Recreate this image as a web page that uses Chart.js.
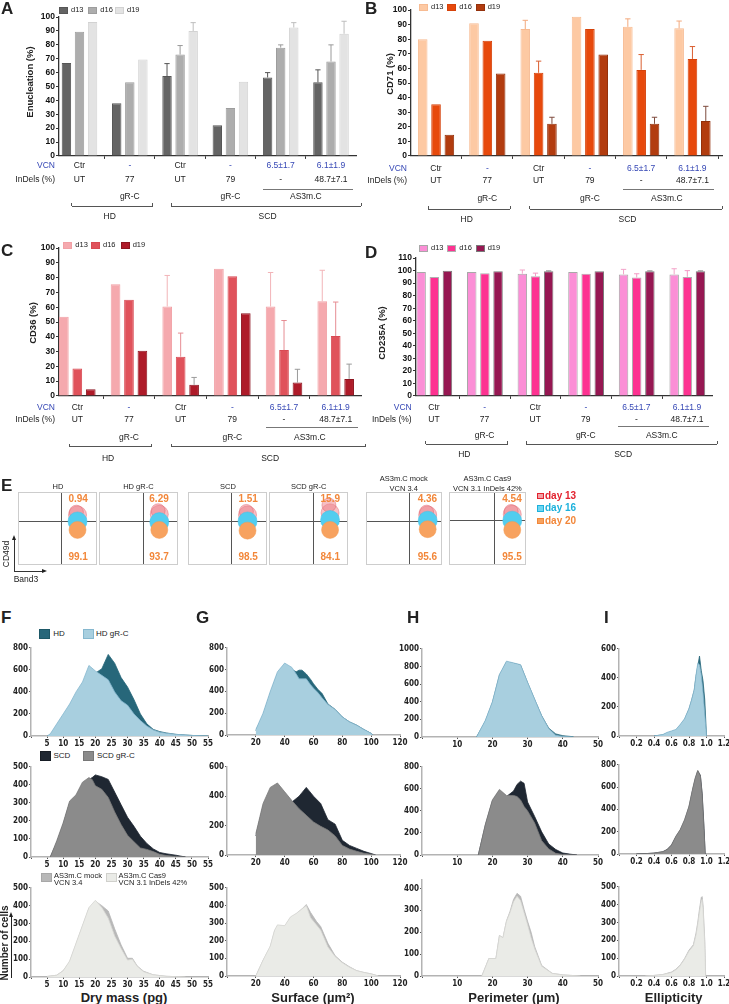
<!DOCTYPE html>
<html>
<head>
<meta charset="utf-8">
<title>Figure</title>
<script src="https://cdn.jsdelivr.net/npm/chart.js@4.4.1/dist/chart.umd.min.js"></script>
<style>
  body { margin: 0; background: #fff; }
  #fig { position: relative; width: 729px; height: 1004px; overflow: hidden; font-family: Arial, "Liberation Sans", sans-serif; color: #222; }
  #fig canvas { position: absolute; }
  .t { position: absolute; white-space: pre; line-height: 1; }
  .ln { position: absolute; }
</style>
</head>
<body>
<div id="fig"></div>
<script>
// ---- paneles A-D: grupos del eje x ----
const vcnRow = ['Ctr', '-', 'Ctr', '-', '6.5±1.7', '6.1±1.9'];
const indelRow = ['UT', '77', 'UT', '79', '-', '48.7±7.1'];
const vcnBlue = [false, true, false, true, true, true];
const dayLabels = ['d13', 'd16', 'd19'];

// A - enucleacion
const enucD13 = [67, 38, 57.5, 22, 56.5, 53];
const enucD16 = [89.5, 53, 73, 34.5, 78, 68];
const enucD19 = [96.5, 69.5, 90, 53.5, 92.5, 88];
const enucSdD13 = [0, 0, 9, 0, 3.5, 9];
const enucSdD16 = [0, 0, 6.5, 0, 2, 12];
const enucSdD19 = [0, 0, 6, 0, 3.5, 9];

// B - CD71
const cd71D13 = [80, 91, 87, 95.5, 88.5, 87.5];
const cd71D16 = [35.5, 79, 57, 87, 59, 66.5];
const cd71D19 = [14.5, 56.5, 22, 69.5, 22, 24];
const cd71SdD13 = [0, 0, 6, 0, 5.5, 5];
const cd71SdD16 = [0, 0, 8, 0, 10.5, 8.5];
const cd71SdD19 = [0, 0, 4.5, 0, 4.5, 10];

// C - CD36
const cd36D13 = [53.5, 75.5, 60.5, 86, 60.5, 64];
const cd36D16 = [18.5, 65, 26.5, 81, 31, 40.5];
const cd36D19 = [4.5, 30.5, 7.5, 56, 9, 11.5];
const cd36SdD13 = [0, 0, 21, 0, 23, 21];
const cd36SdD16 = [0, 0, 16, 0, 20, 23];
const cd36SdD19 = [0, 0, 5, 0, 9, 10];

// D - CD235A
const gpaD13 = [99, 99, 97.5, 99, 97, 97];
const gpaD16 = [95, 98, 95.5, 97.5, 94.5, 95];
const gpaD19 = [100, 99.5, 99.5, 99.5, 99.5, 99.5];
const gpaSdD13 = [0, 0, 3, 0, 4, 4.5];
const gpaSdD16 = [0, 0, 2.5, 0, 3, 5];
const gpaSdD19 = [0, 0, 0.3, 0, 0.3, 0.3];

// ---- panel E: citometria ----
const flowNames = ['HD', 'HD gR-C', 'SCD', 'SCD gR-C', 'AS3m.C mock\nVCN 3.4', 'AS3m.C Cas9\nVCN 3.1 InDels 42%'];
const flowUpper = ['0.94', '6.29', '1.51', '15.9', '4.36', '4.54'];
const flowLower = ['99.1', '93.7', '98.5', '84.1', '95.6', '95.5'];
const gateX = [55, 56, 55, 56, 57, 58];
const gateY = [61, 61, 61, 61, 61, 62];
const popX = [76, 77, 76, 78, 82, 83];
const day13Y = [69, 70, 69, 72, 69, 70];
const day13Top = [73, 75, 74, 83, 73, 74];
const day16Y = [60, 59, 60, 62, 61, 61];
const day20Y = [48, 48, 47, 48, 49, 48];

// ---- paneles F-I: histogramas ----
const massX1 = [5, 6, 8, 10, 12, 14, 16, 18, 20, 22, 24, 26, 28, 30, 32, 34, 36, 38, 40, 42, 45, 50, 55];
const massHDgRC = [0, 20, 110, 200, 290, 400, 490, 640, 590, 550, 510, 400, 320, 280, 200, 140, 90, 55, 35, 25, 15, 5, 0];
const massHD = [0, 10, 80, 160, 250, 350, 440, 560, 570, 610, 740, 660, 530, 445, 330, 200, 110, 60, 40, 28, 15, 5, 0];
const surfX1 = [20, 25, 30, 35, 40, 45, 48, 50, 52, 55, 58, 60, 63, 66, 70, 75, 80, 85, 90, 95, 100, 101];
const surfHDgRC = [50, 200, 400, 580, 660, 620, 560, 515, 515, 515, 460, 430, 390, 340, 280, 235, 165, 120, 90, 50, 15, 0];
const surfHD = [40, 180, 380, 560, 640, 600, 580, 595, 595, 560, 510, 470, 420, 380, 285, 235, 165, 120, 90, 50, 15, 0];
const perimX1 = [15.5, 18, 20, 22, 24, 26, 28, 30, 32, 34, 36, 38, 40, 43];
const perimHDgRC = [0, 190, 400, 710, 860, 840, 820, 620, 430, 240, 95, 20, 5, 0];
const perimHD = [0, 180, 390, 700, 850, 835, 815, 615, 425, 240, 100, 35, 15, 3];
const ellipX1 = [0.4, 0.5, 0.55, 0.6, 0.65, 0.7, 0.75, 0.8, 0.83, 0.86, 0.88, 0.9, 0.92, 0.94, 0.96, 0.98, 1.0];
const ellipHDgRC = [0, 10, 25, 35, 45, 80, 120, 190, 250, 320, 420, 500, 490, 420, 300, 150, 0];
const ellipHD = [0, 8, 20, 30, 40, 75, 115, 185, 245, 315, 410, 480, 550, 450, 380, 250, 0];

const massX2 = [6, 8, 10, 12, 14, 16, 18, 19, 20, 22, 24, 26, 28, 30, 32, 34, 36, 38, 40, 42, 45, 48];
const massSCDgRC = [0, 90, 190, 310, 345, 415, 440, 430, 395, 375, 330, 250, 180, 120, 85, 50, 42, 30, 15, 8, 3, 0];
const massSCD = [0, 80, 180, 300, 335, 405, 430, 440, 455, 445, 430, 360, 290, 220, 170, 115, 75, 45, 25, 18, 10, 0];
const surfX2 = [20, 25, 30, 35, 40, 45, 50, 55, 60, 65, 70, 75, 80, 85, 90, 95, 100, 103];
const surfSCDgRC = [145, 350, 460, 490, 430, 370, 315, 270, 225, 195, 170, 130, 65, 40, 25, 12, 5, 0];
const surfSCD = [130, 330, 440, 470, 410, 360, 400, 460, 400, 350, 240, 210, 100, 65, 45, 25, 10, 0];
const perimX2 = [16, 18, 20, 22, 24, 26, 27, 28, 29, 30, 32, 34, 36, 38, 40, 42, 44];
const perimSCDgRC = [0, 280, 500, 595, 540, 540, 530, 500, 440, 400, 290, 130, 55, 15, 5, 2, 0];
const perimSCD = [0, 270, 490, 585, 530, 580, 640, 670, 650, 480, 350, 210, 100, 50, 18, 8, 0];
const ellipX2 = [0.2, 0.3, 0.4, 0.5, 0.55, 0.6, 0.65, 0.7, 0.75, 0.8, 0.84, 0.87, 0.9, 0.93, 0.95, 0.97, 0.985];
const ellipSCDgRC = [0, 3, 8, 20, 40, 80, 160, 220, 310, 430, 580, 680, 750, 700, 530, 230, 0];
const ellipSCD = [0, 3, 8, 20, 40, 80, 155, 215, 300, 420, 570, 670, 745, 705, 545, 260, 0];

const massX3 = [5, 8, 10, 12, 14, 16, 18, 20, 22, 24, 26, 28, 30, 31.5, 33, 35, 38, 42, 48];
const massCas9 = [3, 10, 35, 90, 190, 290, 390, 430, 390, 330, 230, 160, 95, 100, 60, 30, 12, 4, 0];
const massMock = [3, 10, 35, 85, 185, 285, 385, 425, 400, 370, 270, 180, 105, 105, 62, 32, 12, 4, 0];
const surfX3 = [20, 25, 30, 33, 35, 40, 44, 48, 52, 55, 58, 62, 65, 70, 75, 80, 85, 90, 95, 100, 105];
const surfCas9 = [0, 90, 170, 260, 290, 285, 335, 355, 380, 400, 330, 290, 260, 165, 110, 75, 50, 30, 20, 12, 0];
const surfMock = [0, 88, 165, 255, 285, 282, 330, 352, 380, 405, 360, 310, 280, 185, 115, 78, 52, 30, 20, 12, 0];
const perimX3 = [17, 18, 19, 21, 22, 23, 24, 25, 26, 27, 28, 29, 30, 31, 32, 34, 37, 40, 45];
const perimCas9 = [0, 40, 80, 80, 185, 175, 250, 290, 340, 365, 345, 290, 235, 175, 125, 45, 12, 5, 0];
const perimMock = [0, 40, 80, 80, 185, 175, 252, 295, 350, 378, 365, 305, 250, 200, 135, 48, 12, 5, 0];
const ellipX3 = [0.3, 0.4, 0.5, 0.6, 0.65, 0.7, 0.75, 0.8, 0.85, 0.88, 0.9, 0.92, 0.94, 0.95, 0.96, 0.98, 0.99];
const ellipCas9 = [0, 3, 8, 20, 35, 60, 95, 140, 170, 230, 290, 360, 420, 430, 380, 180, 0];
const ellipMock = [0, 3, 8, 22, 38, 62, 98, 145, 175, 240, 300, 375, 440, 445, 400, 200, 0];

const BLUE = '#3547b5';
const fig = document.getElementById('fig');

// ---------- utilidades ----------
function addCanvas(x, y, w, h) {
  const c = document.createElement('canvas');
  c.width = Math.round(w);
  c.height = Math.round(h);
  c.style.left = x + 'px';
  c.style.top = y + 'px';
  fig.appendChild(c);
  return c;
}

function txt(s, x, y, o = {}) {
  const d = document.createElement('div');
  d.className = 't';
  d.textContent = s;
  d.style.left = x + 'px';
  d.style.top = y + 'px';
  d.style.fontSize = (o.size || 8.5) + 'px';
  if (o.bold) d.style.fontWeight = 'bold';
  if (o.color) d.style.color = o.color;
  if (o.lh) d.style.lineHeight = o.lh + 'px';
  if (o.center) d.style.textAlign = 'center';
  const ax = o.align === 'l' ? '0' : o.align === 'r' ? '-100%' : '-50%';
  d.style.transform = 'translate(' + ax + ', -50%)' + (o.rot ? ' rotate(-90deg)' : '');
  fig.appendChild(d);
  return d;
}

function box(x, y, w, h, bg, border) {
  const d = document.createElement('div');
  d.className = 'ln';
  d.style.left = x + 'px';
  d.style.top = y + 'px';
  d.style.width = w + 'px';
  d.style.height = h + 'px';
  d.style.background = bg;
  if (border) d.style.boxShadow = 'inset 0 0 0 1px ' + border;
  fig.appendChild(d);
  return d;
}
function hline(x1, x2, y, c = '#555', w = 1) { return box(x1, y - w / 2, x2 - x1, w, c); }
function vline(x, y1, y2, c = '#555', w = 1) { return box(x - w / 2, y1, w, y2 - y1, c); }
function bracket(x1, x2, y, c = '#555') {
  hline(x1, x2, y, c);
  vline(x1, y - 3, y, c);
  vline(x2, y - 3, y, c);
}
function arrowUp(x, y, c = '#222') {
  const d = document.createElement('div');
  d.className = 'ln';
  d.style.left = (x - 2.5) + 'px';
  d.style.top = y + 'px';
  d.style.borderLeft = '2.5px solid transparent';
  d.style.borderRight = '2.5px solid transparent';
  d.style.borderBottom = '5px solid ' + c;
  fig.appendChild(d);
}
function arrowRight(x, y, c = '#222') {
  const d = document.createElement('div');
  d.className = 'ln';
  d.style.left = (x - 5) + 'px';
  d.style.top = (y - 2.5) + 'px';
  d.style.borderTop = '2.5px solid transparent';
  d.style.borderBottom = '2.5px solid transparent';
  d.style.borderLeft = '5px solid ' + c;
  fig.appendChild(d);
}

// barras de error (solo hacia arriba)
const errorBars = {
  id: 'errorBars',
  afterDatasetsDraw(chart) {
    const ctx = chart.ctx;
    const ys = chart.scales.y;
    chart.data.datasets.forEach((ds, di) => {
      if (!ds.errors) return;
      const meta = chart.getDatasetMeta(di);
      meta.data.forEach((bar, i) => {
        const e = ds.errors[i];
        if (!e) return;
        const top = ys.getPixelForValue(ds.data[i].y + e);
        const hw = bar.width * 0.28;
        ctx.save();
        ctx.strokeStyle = ds.errorColor;
        ctx.lineWidth = 1;
        ctx.beginPath();
        ctx.moveTo(bar.x, bar.y);
        ctx.lineTo(bar.x, top);
        ctx.moveTo(bar.x - hw, top);
        ctx.lineTo(bar.x + hw, top);
        ctx.stroke();
        ctx.restore();
      });
    });
  }
};

// ---------- paneles de barras ----------
function barPanel(p) {
  const yw = 30, pt = 6, pb = 2, xh = 4, pr = 6;
  const R = p.rect;
  const s = (p.centers[1] - p.centers[0]) / 5;
  const xmin = -(p.centers[0] - R.l) / s;
  const xmax = (R.r - p.centers[0]) / s;
  const cx = R.l - yw, cy = R.t - pt;
  const c = addCanvas(cx, cy, R.r - R.l + yw + pr, R.b - R.t + pt + xh + pb);
  const chart = new Chart(c, {
    type: 'bar',
    data: {
      datasets: p.sets.map((d, k) => ({
        label: dayLabels[k],
        data: d.v.map((v, i) => ({ x: i, y: v })),
        backgroundColor: d.fill,
        borderColor: d.line,
        borderWidth: 1,
        errors: d.e,
        errorColor: d.err,
        categoryPercentage: 0.78,
        barPercentage: 0.72
      }))
    },
    options: {
      responsive: false,
      animation: false,
      events: [],
      layout: { padding: { top: pt, bottom: pb, right: pr, left: 0 } },
      plugins: { legend: { display: false }, tooltip: { enabled: false } },
      scales: {
        x: {
          type: 'linear', min: xmin, max: xmax, offset: false,
          ticks: { display: false, stepSize: 1, includeBounds: false },
          grid: { drawOnChartArea: false, tickLength: 3, color: '#333' },
          border: { color: '#333', width: 1.3 },
          afterFit: sc => { sc.height = xh; }
        },
        y: {
          min: 0, max: p.yMax,
          ticks: { stepSize: 10, autoSkip: false, padding: 1, color: '#111', font: { size: 8.5, weight: 'bold', family: 'Arial, "Liberation Sans"' } },
          grid: { drawOnChartArea: false, tickLength: 3, color: '#333' },
          border: { color: '#333', width: 1.3 },
          afterFit: sc => { sc.width = yw; }
        }
      }
    },
    plugins: [errorBars]
  });

  // leyenda
  p.sets.forEach((d, k) => {
    box(p.legX[k], p.legY - 3.5, 9, 7, d.fill, d.line);
    txt(dayLabels[k], p.legX[k] + 12, p.legY, { align: 'l', size: 7.5 });
  });
  txt(p.title, p.titleX, p.titleY, { rot: true, bold: true, size: 9.5 });
  txt(p.id, p.idX, p.idY, { bold: true, size: 17, align: 'l' });

  // filas bajo el eje
  const g = vcnRow.map((_, i) => cx + chart.scales.x.getPixelForValue(i));
  const rw = p.rows;
  txt('VCN', R.l - 4, rw.vcn, { align: 'r', color: BLUE });
  txt('InDels (%)', R.l - 4, rw.indel, { align: 'r' });
  g.forEach((x, i) => {
    txt(vcnRow[i], x, rw.vcn, { color: vcnBlue[i] ? BLUE : '#222' });
    txt(indelRow[i], x, rw.indel);
  });
  hline(g[4] - 18, g[5] + 22, rw.sub, '#777');
  txt('gR-C', g[1], rw.grc);
  txt('gR-C', g[3], rw.grc);
  txt('AS3m.C', (g[4] + g[5]) / 2, rw.grc);
  bracket(g[0] - 8, g[1] + 23, rw.brk);
  bracket(g[2] - 9, g[5] + 30, rw.brk);
  txt('HD', (g[0] + g[1]) / 2 + 5, rw.grp);
  txt('SCD', (g[2] + g[5]) / 2 + 12, rw.grp);
}

barPanel({
  id: 'A', idX: 1, idY: 8, rect: { l: 59, r: 356, t: 16.7, b: 155.7 }, yMax: 100, centers: [79.5, 331],
  title: 'Enucleation (%)', titleX: 30, titleY: 82, legX: [59, 88.3, 115], legY: 10,
  sets: [
    { v: enucD13, e: enucSdD13, fill: '#646464', line: '#565656', err: '#555' },
    { v: enucD16, e: enucSdD16, fill: '#adadad', line: '#9d9d9d', err: '#9a9a9a' },
    { v: enucD19, e: enucSdD19, fill: '#e3e3e3', line: '#d2d2d2', err: '#bdbdbd' }
  ],
  rows: { vcn: 165, indel: 179, sub: 189, grc: 196, brk: 206, grp: 216 }
});
barPanel({
  id: 'B', idX: 365, idY: 8, rect: { l: 411, r: 721.5, t: 10, b: 155.7 }, yMax: 100, centers: [436, 692],
  title: 'CD71 (%)', titleX: 389.7, titleY: 74, legX: [419, 447.3, 475.7], legY: 7,
  sets: [
    { v: cd71D13, e: cd71SdD13, fill: '#fdc9a3', line: '#f7bb92', err: '#f3a97c' },
    { v: cd71D16, e: cd71SdD16, fill: '#e7490c', line: '#d5420a', err: '#da5e30' },
    { v: cd71D19, e: cd71SdD19, fill: '#b23c0f', line: '#93310c', err: '#7d4a3c' }
  ],
  rows: { vcn: 168, indel: 180, sub: 189, grc: 198, brk: 209, grp: 219 }
});
barPanel({
  id: 'C', idX: 1, idY: 250, rect: { l: 59, r: 361, t: 248.3, b: 396 }, yMax: 100, centers: [77.3, 335.7],
  title: 'CD36 (%)', titleX: 32.7, titleY: 322.5, legX: [63.3, 91, 120.7], legY: 245,
  sets: [
    { v: cd36D13, e: cd36SdD13, fill: '#f5a9ae', line: '#f1a0a5', err: '#f2b4b8' },
    { v: cd36D16, e: cd36SdD16, fill: '#e0525b', line: '#d84a53', err: '#e68d93' },
    { v: cd36D19, e: cd36SdD19, fill: '#ae1b29', line: '#8d1520', err: '#9a9a9a' }
  ],
  rows: { vcn: 406.7, indel: 419.3, sub: 427.7, grc: 437, brk: 446.7, grp: 457.7 }
});
barPanel({
  id: 'D', idX: 365, idY: 252, rect: { l: 415.7, r: 712, t: 258.3, b: 396 }, yMax: 110, centers: [434, 687.3],
  title: 'CD235A (%)', titleX: 382.3, titleY: 333, legX: [419, 447.3, 475.7], legY: 248.3,
  sets: [
    { v: gpaD13, e: gpaSdD13, fill: '#fb8fd6', line: '#a8a8a8', err: '#f3a3c9' },
    { v: gpaD16, e: gpaSdD16, fill: '#fd3291', line: '#b0b0b0', err: '#f39ac4' },
    { v: gpaD19, e: gpaSdD19, fill: '#961752', line: '#7a7a7a', err: '#888' }
  ],
  rows: { vcn: 406.7, indel: 419.3, sub: 426.7, grc: 435, brk: 444, grp: 454.3 }
});

// ---------- panel E ----------
const flowBoxes = [
  { x: 19.3, w: 77.4 }, { x: 100, w: 76.7 }, { x: 189.3, w: 77.4 },
  { x: 270, w: 77.3 }, { x: 366.7, w: 74 }, { x: 450, w: 74.7 }
];
const flowTop = 493.3, flowH = 70.7;

// lineas de cuadrante a partir de las escalas
function gatePlugin(gx, gy) {
  return {
    id: 'gate',
    beforeDatasetsDraw(chart) {
      const { ctx, width, height, scales } = chart;
      const px = Math.round(scales.x.getPixelForValue(gx)) + 0.5;
      const py = Math.round(scales.y.getPixelForValue(gy)) + 0.5;
      ctx.save();
      ctx.strokeStyle = '#555';
      ctx.lineWidth = 1;
      ctx.beginPath();
      ctx.moveTo(px, 0);
      ctx.lineTo(px, height);
      ctx.moveTo(0, py);
      ctx.lineTo(width, py);
      ctx.stroke();
      ctx.restore();
    }
  };
}

function flowPanel(i) {
  const b = flowBoxes[i];
  const c = addCanvas(b.x, flowTop, b.w, flowH);
  c.style.outline = '1px solid #cdcdcd';
  new Chart(c, {
    type: 'scatter',
    data: {
      datasets: [
        { data: [{ x: popX[i], y: day20Y[i] }], backgroundColor: '#f7a25f', borderColor: '#f39a52', pointRadius: 8.5, borderWidth: 0.5 },
        { data: [{ x: popX[i], y: day16Y[i] }], backgroundColor: '#52cdef', borderColor: '#3fc2e8', pointRadius: 9.5, borderWidth: 0.5 },
        { data: [{ x: popX[i], y: day13Y[i] }, { x: popX[i] - 1.5, y: day13Top[i] }], backgroundColor: 'rgba(238,128,138,0.5)', borderColor: 'rgba(222,92,104,0.55)', pointRadius: [9, 7], borderWidth: 0.8 }
      ]
    },
    options: {
      responsive: false, animation: false, events: [],
      layout: { padding: 0, autoPadding: false },
      plugins: { legend: { display: false }, tooltip: { enabled: false } },
      scales: { x: { display: false, min: 0, max: 100 }, y: { display: false, min: 0, max: 100 } }
    },
    plugins: [gatePlugin(gateX[i], gateY[i])]
  });
  const px = b.x + b.w * popX[i] / 100;
  txt(flowUpper[i], px, 499, { bold: true, size: 10, color: '#f2873a' });
  txt(flowLower[i], px, 557, { bold: true, size: 10, color: '#f2873a' });
  const twoLines = flowNames[i].includes('\n');
  txt(flowNames[i], b.x + b.w / 2, twoLines ? 483 : 487.3, { size: 7.5, center: true, lh: 9.5 });
}
flowBoxes.forEach((_, i) => flowPanel(i));
txt('E', 1, 485, { bold: true, size: 17, align: 'l' });
[['day 13', '#e3222e', '#f2a0a5'], ['day 16', '#1db1dc', '#6fd6f2'], ['day 20', '#f2873a', '#f7a25f']].forEach((d, k) => {
  const y = 495.7 + k * 12.5;
  box(537, y - 3.2, 6.5, 6.5, d[2], d[1]);
  txt(d[0], 545, y, { align: 'l', bold: true, size: 10, color: d[1] });
});
vline(14, 538, 572, '#333');
arrowUp(14, 535);
hline(14, 44, 571.5, '#333');
arrowRight(47, 571.5);
txt('CD49d', 6, 554, { rot: true, size: 8.5 });
txt('Band3', 26, 578.5, { size: 8.5 });

// ---------- paneles F-I ----------
const tickFont = { family: '"Liberation Sans Narrow", "DejaVu Sans Condensed", Arial', size: 8, weight: 'bold' };

function areaPanel(p) {
  const yw = 28, xh = 12, pt = 5, pr = 9;
  const c = addCanvas(p.l - yw, p.t - pt, p.r - p.l + yw + pr, p.b - p.t + pt + xh);
  new Chart(c, {
    type: 'line',
    data: {
      datasets: [
        { data: p.x.map((x, i) => ({ x, y: p.front[i] })), fill: 'origin', backgroundColor: p.frontFill, borderColor: p.frontLine, borderWidth: 0.8, pointRadius: 0, tension: 0 },
        { data: p.x.map((x, i) => ({ x, y: p.back[i] })), fill: 'origin', backgroundColor: p.backFill, borderColor: p.backFill, borderWidth: 0.8, pointRadius: 0, tension: 0 }
      ]
    },
    options: {
      responsive: false, animation: false, events: [],
      layout: { padding: { top: pt, right: pr, left: 0, bottom: 0 } },
      plugins: { legend: { display: false }, tooltip: { enabled: false } },
      scales: {
        x: {
          type: 'linear', min: 0, max: p.xMax,
          ticks: { stepSize: p.xStep, autoSkip: false, maxRotation: 0, padding: 1, color: '#222', font: tickFont, includeBounds: false,
                   callback: v => v === 0 ? '' : (p.dec ? v.toFixed(1) : String(v)) },
          grid: { drawOnChartArea: false, tickLength: 2, color: '#555' },
          border: { color: '#b3b3b3', width: 1.5 },
          afterFit: sc => { sc.height = xh; }
        },
        y: {
          min: 0, max: p.yMax,
          ticks: { stepSize: p.yStep, autoSkip: false, padding: 1, color: '#222', font: tickFont, includeBounds: false,
                   callback: v => String(v) },
          grid: { drawOnChartArea: false, tickLength: 2, color: '#555' },
          border: { color: '#b3b3b3', width: 1.5 },
          afterFit: sc => { sc.width = yw; }
        }
      }
    }
  });
}

const colF = { l: 31, r: 208.3, xMax: 55, xStep: 5 };
const colG = { l: 226.8, r: 400.2, xMax: 120, xStep: 20 };
const colH = { l: 421.5, r: 597.5, xMax: 50, xStep: 10 };
const colI = { l: 619.2, r: 724, xMax: 1.2, xStep: 0.2, dec: true };

const row1 = { frontFill: '#a8cfdf', frontLine: '#86b8cf', backFill: '#27677a' };
const row2 = { frontFill: '#8b8b8b', frontLine: '#7c7c7c', backFill: '#1f2732' };
const row3 = { frontFill: '#eaebe7', frontLine: '#d8d8d4', backFill: '#b8b8b8' };

areaPanel({ ...colF, ...row1, t: 647.3, b: 736, yMax: 800, yStep: 200, x: massX1, front: massHDgRC, back: massHD });
areaPanel({ ...colG, ...row1, t: 647.3, b: 735.7, yMax: 800, yStep: 200, x: surfX1, front: surfHDgRC, back: surfHD });
areaPanel({ ...colH, ...row1, t: 647.7, b: 736.5, yMax: 1000, yStep: 200, x: perimX1, front: perimHDgRC, back: perimHD });
areaPanel({ ...colI, ...row1, t: 648.3, b: 736, yMax: 600, yStep: 200, x: ellipX1, front: ellipHDgRC, back: ellipHD });

areaPanel({ ...colF, ...row2, t: 765.7, b: 856.7, yMax: 500, yStep: 100, x: massX2, front: massSCDgRC, back: massSCD });
areaPanel({ ...colG, ...row2, t: 765.7, b: 855, yMax: 600, yStep: 200, x: surfX2, front: surfSCDgRC, back: surfSCD });
areaPanel({ ...colH, ...row2, t: 765.7, b: 855, yMax: 800, yStep: 200, x: perimX2, front: perimSCDgRC, back: perimSCD });
areaPanel({ ...colI, ...row2, t: 764.3, b: 854.3, yMax: 800, yStep: 200, x: ellipX2, front: ellipSCDgRC, back: ellipSCD });

areaPanel({ ...colF, ...row3, t: 887.3, b: 977.3, yMax: 500, yStep: 100, x: massX3, front: massCas9, back: massMock });
areaPanel({ ...colG, ...row3, t: 887.3, b: 976.7, yMax: 500, yStep: 100, x: surfX3, front: surfCas9, back: surfMock });
areaPanel({ ...colH, ...row3, t: 878.8, b: 976, yMax: 440, yStep: 100, x: perimX3, front: perimCas9, back: perimMock });
areaPanel({ ...colI, ...row3, t: 885.7, b: 975.7, yMax: 500, yStep: 100, x: ellipX3, front: ellipCas9, back: ellipMock });

// leyendas de cada fila
box(39, 629, 11, 10, row1.backFill, '#1d5867');
txt('HD', 53.3, 634, { align: 'l', size: 8 });
box(83.3, 629, 11, 10, row1.frontFill, '#86b8cf');
txt('HD gR-C', 96, 634, { align: 'l', size: 8 });
box(40, 751, 10.5, 9.5, row2.backFill, '#161c24');
txt('SCD', 53.5, 755.7, { align: 'l', size: 8 });
box(83.3, 751, 10.5, 9.5, row2.frontFill, '#777');
txt('SCD gR-C', 97, 755.7, { align: 'l', size: 8 });
box(40.7, 872.5, 11, 9.5, row3.backFill, '#a8a8a8');
txt('AS3m.C mock\nVCN 3.4', 54, 878.5, { align: 'l', size: 7.5, lh: 7.5 });
box(106, 872.5, 11, 9.5, row3.frontFill, '#d0d0cc');
txt('AS3m.C Cas9\nVCN 3.1 InDels 42%', 118.5, 878.5, { align: 'l', size: 7.5, lh: 7.5 });

// letras y titulos
txt('F', 1, 617, { bold: true, size: 17, align: 'l' });
txt('G', 196, 617, { bold: true, size: 17, align: 'l' });
txt('H', 407, 617, { bold: true, size: 17, align: 'l' });
txt('I', 604, 617, { bold: true, size: 17, align: 'l' });
txt('Dry mass (pg)', 124, 996.5, { bold: true, size: 13 });
txt('Surface (µm²)', 313, 996.5, { bold: true, size: 13 });
txt('Perimeter (µm)', 514, 996.5, { bold: true, size: 13 });
txt('Ellipticity', 673.7, 996.5, { bold: true, size: 13 });
txt('Number of cells', 5, 943, { rot: true, bold: true, size: 10 });
vline(11.7, 916, 978, '#222');
arrowUp(11.7, 912);
</script>
</body>
</html>
